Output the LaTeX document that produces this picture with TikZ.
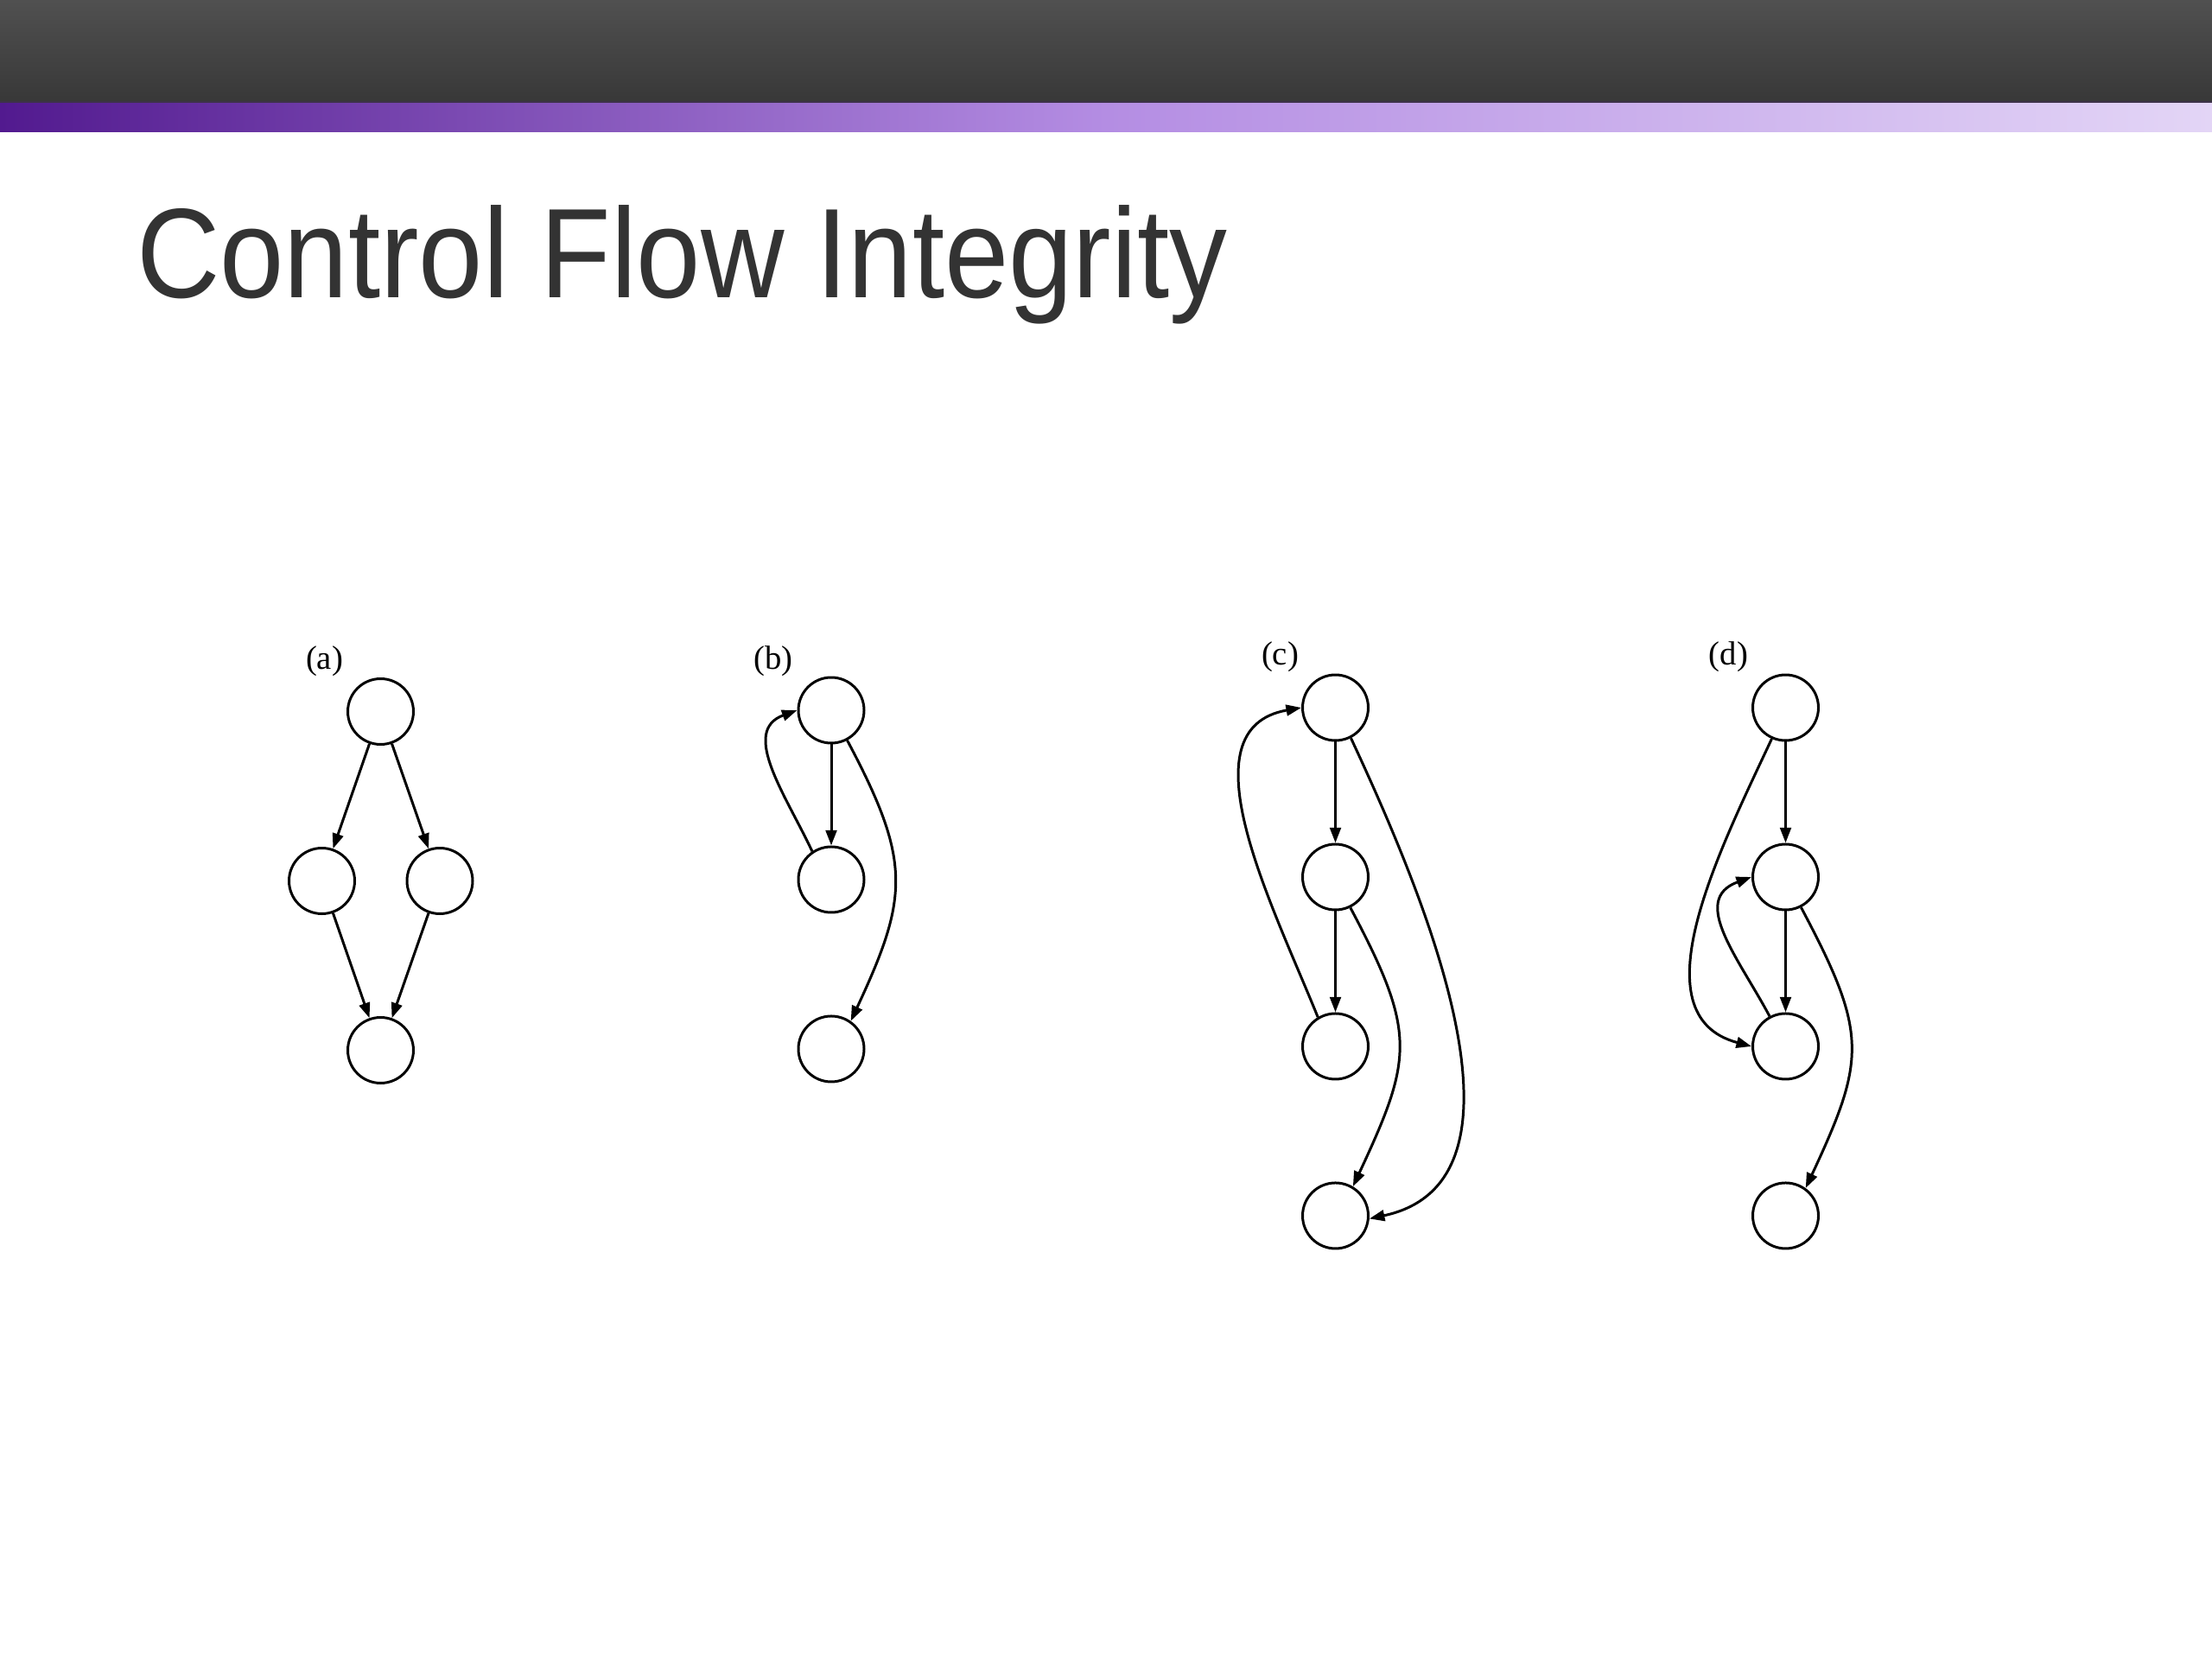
\documentclass[tikz,border=0pt]{standalone}
\usepackage{fontspec}
\setmainfont{Liberation Serif}
\newfontfamily\titlefont{Liberation Sans}
\usetikzlibrary{calc,positioning,arrows.meta}

\definecolor{barTop}{HTML}{505050}
\definecolor{barBot}{HTML}{383838}
\definecolor{purpleL}{HTML}{521A8F}
\definecolor{purpleM}{HTML}{B48DE3}
\definecolor{purpleR}{HTML}{E3D5F6}
\definecolor{titleGray}{HTML}{333333}

\tikzset{
  vtx/.style={circle,draw,line width=0.85pt,minimum size=0.76cm,inner sep=0pt},
  edge/.style={line width=0.85pt,-{Triangle[length=5pt,width=3.6pt]}},
  tag/.style={font=\fontsize{11}{13}\selectfont,inner sep=0pt}
}

\begin{document}
\begin{tikzpicture}[node distance=1.17cm]
\useasboundingbox (0,0) rectangle (25.6,-19.2);

    % header bars
    \shade[top color=barTop,bottom color=barBot] (0,0) rectangle (25.6,-1.18);
    \shade[left color=purpleL,right color=purpleR,middle color=purpleM] (0,-1.18) rectangle (25.6,-1.53);
    \draw[line width=0.6pt,color=barBot!80!purpleL] (0,-1.18)--(25.6,-1.18);

    \node[anchor=base west,font=\titlefont\fontsize{42}{48}\selectfont,text=titleGray,xscale=0.905,inner sep=0pt] (title) at (1.575,-3.45) {Control Flow Integrity};

    % (a)
    \node[vtx] (a1) at (4.405,-8.235) {};
    \node[vtx] (a2) at ($(a1)+(-0.68,-1.96)$) {};
    \node[vtx] (a3) at ($(a1)+(0.685,-1.96)$) {};
    \node[vtx] (a4) at ($(a1)+(0,-3.92)$) {};
    \node[tag] (la) at ($(a1)+(-0.65,0.58)$) {(a)};
    \draw[edge] (a1)--(a2);
    \draw[edge] (a1)--(a3);
    \draw[edge] (a2)--(a4);
    \draw[edge] (a3)--(a4);

    % (b)
    \node[vtx] (b1) at (9.62,-8.22) {};
    \node[vtx,below=of b1] (b2) {};
    \node[vtx,below=of b2] (b3) {};
    \node[tag] (lb) at ($(b1)+(-0.67,0.57)$) {(b)};
    \draw[edge] (b1)--(b2);
    \draw[edge] (b2.124) to[out=115,in=200,looseness=1.1] (b1.180);
    \draw[edge] (b1.-62) to[out=-62,in=65,looseness=1.25] (b3.55);

    % (c)
    \node[vtx] (c1) at (15.455,-8.19) {};
    \node[vtx,below=of c1] (c2) {};
    \node[vtx,below=of c2] (c3) {};
    \node[vtx,below=of c3] (c4) {};
    \node[tag] (lc) at ($(c1)+(-0.64,0.59)$) {(c)};
    \draw[edge] (c1)--(c2);
    \draw[edge] (c2)--(c3);
    \draw[edge] (c3.121) to[out=112,in=190] (c1.180);
    \draw[edge] (c2.-64) to[out=-62,in=65,looseness=1.3] (c4.59);
    \draw[edge] (c1.-63) to[out=-65,in=12,looseness=0.95] (c4.-5);

    % (d)
    \node[vtx] (d1) at (20.665,-8.19) {};
    \node[vtx,below=of d1] (d2) {};
    \node[vtx,below=of d2] (d3) {};
    \node[vtx,below=of d3] (d4) {};
    \node[tag] (ld) at ($(d1)+(-0.66,0.59)$) {(d)};
    \draw[edge] (d1)--(d2);
    \draw[edge] (d2)--(d3);
    \draw[edge] (d1.-114) to[out=-115,in=165] (d3.180);
    \draw[edge] (d3.118) to[out=118,in=200,looseness=1.2] (d2.180);
    \draw[edge] (d2.-63) to[out=-62,in=65,looseness=1.3] (d4.54);

\end{tikzpicture}
\end{document}
